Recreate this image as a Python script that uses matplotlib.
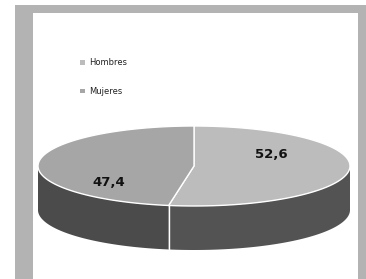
import numpy as np
import matplotlib
matplotlib.use("Agg")
from matplotlib import pyplot as plt
from matplotlib.patches import Polygon, Rectangle

labels = ['Hombres', 'Mujeres']
values = [52.6, 47.4]
value_text = ['52,6', '47,4']
top_colors = ['#bcbcbc', '#a6a6a6']
side_colors = ['#535353', '#4b4b4b']

# geometry of the 3d pie in pixel space
cx, cy = 194, 166
a, b = 156, 40
depth = 44


def pt(t, dy=0):
    r = np.radians(t)
    return cx + a * np.cos(r), cy - b * np.sin(r) + dy


def arc(t1, t2, dy=0, n=80):
    ts = np.linspace(t1, t2, n)
    return [pt(t, dy) for t in ts]


def front_part(t1, t2):
    # part of [t1, t2] that falls in the visible front half (-180..0)
    lo, hi = min(t1, t2), max(t1, t2)
    for s in (-360, 0, 360):
        l2, h2 = max(lo + s, -180), min(hi + s, 0)
        if h2 > l2:
            return l2, h2
    return None


fig = plt.figure(figsize=(3.66, 2.79), dpi=100)
ax = fig.add_axes([0, 0, 1, 1])
ax.set_xlim(0, 366)
ax.set_ylim(279, 0)
ax.axis('off')

ax.add_patch(Rectangle((15, 5), 351, 280, facecolor='#b3b3b3', edgecolor='none'))
ax.add_patch(Rectangle((33, 13), 325, 280, facecolor='white', edgecolor='none'))

total = sum(values)
angles = [90]
for v in values:
    angles.append(angles[-1] - 360 * v / total)

# sides
for i in range(len(values)):
    fp = front_part(angles[i], angles[i + 1])
    if fp is None:
        continue
    top = arc(fp[0], fp[1])
    bot = arc(fp[1], fp[0], depth)
    ax.add_patch(Polygon(top + bot, closed=True, facecolor=side_colors[i], edgecolor='none'))

# dividing lines on the side
for t in angles:
    x, y = pt(t)
    if np.sin(np.radians(t)) < 0:
        ax.plot([x, x], [y, y + depth], color='white', lw=1)

# top faces
for i in range(len(values)):
    poly = [(cx, cy)] + arc(angles[i], angles[i + 1])
    ax.add_patch(Polygon(poly, closed=True, facecolor=top_colors[i], edgecolor='white', lw=1))

# value labels
label_pos = [(271, 155), (109, 182)]
for (x, y), txt in zip(label_pos, value_text):
    ax.text(x, y, txt, ha='center', va='center', fontsize=9.5, fontweight='bold', color='#111111')

# legend
for i, lab in enumerate(labels):
    y = 62.5 + i * 28.5
    ax.scatter(82.5, y, marker='s', s=12, color=top_colors[i], edgecolors='none')
    ax.text(89, y, lab, ha='left', va='center', fontsize=6, color='#222222')

fig.savefig('out.png', dpi=100)
